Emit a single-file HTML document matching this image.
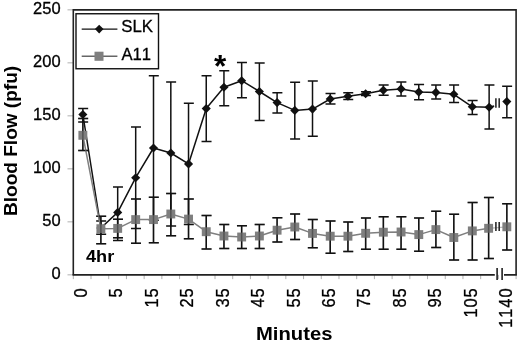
<!DOCTYPE html><html><head><meta charset="utf-8"><title>Blood Flow</title><style>html,body{margin:0;padding:0;background:#fff}svg{display:block}text{font-family:"Liberation Sans",Arial,sans-serif;fill:#000;font-kerning:none}.r{stroke:#000;stroke-width:.3px}</style></head><body>
<svg width="520" height="342" viewBox="0 0 520 342">
<rect width="520" height="342" fill="#fff"/>
<line x1="73.30" y1="274.85" x2="73.30" y2="279.15000000000003" stroke="#b0b0b0" stroke-width="1"/>
<line x1="91.01" y1="274.85" x2="91.01" y2="279.15000000000003" stroke="#b0b0b0" stroke-width="1"/>
<line x1="108.72" y1="274.85" x2="108.72" y2="279.15000000000003" stroke="#b0b0b0" stroke-width="1"/>
<line x1="126.44" y1="274.85" x2="126.44" y2="279.15000000000003" stroke="#b0b0b0" stroke-width="1"/>
<line x1="144.15" y1="274.85" x2="144.15" y2="279.15000000000003" stroke="#b0b0b0" stroke-width="1"/>
<line x1="161.86" y1="274.85" x2="161.86" y2="279.15000000000003" stroke="#b0b0b0" stroke-width="1"/>
<line x1="179.57" y1="274.85" x2="179.57" y2="279.15000000000003" stroke="#b0b0b0" stroke-width="1"/>
<line x1="197.28" y1="274.85" x2="197.28" y2="279.15000000000003" stroke="#b0b0b0" stroke-width="1"/>
<line x1="215.00" y1="274.85" x2="215.00" y2="279.15000000000003" stroke="#b0b0b0" stroke-width="1"/>
<line x1="232.71" y1="274.85" x2="232.71" y2="279.15000000000003" stroke="#b0b0b0" stroke-width="1"/>
<line x1="250.42" y1="274.85" x2="250.42" y2="279.15000000000003" stroke="#b0b0b0" stroke-width="1"/>
<line x1="268.13" y1="274.85" x2="268.13" y2="279.15000000000003" stroke="#b0b0b0" stroke-width="1"/>
<line x1="285.84" y1="274.85" x2="285.84" y2="279.15000000000003" stroke="#b0b0b0" stroke-width="1"/>
<line x1="303.56" y1="274.85" x2="303.56" y2="279.15000000000003" stroke="#b0b0b0" stroke-width="1"/>
<line x1="321.27" y1="274.85" x2="321.27" y2="279.15000000000003" stroke="#b0b0b0" stroke-width="1"/>
<line x1="338.98" y1="274.85" x2="338.98" y2="279.15000000000003" stroke="#b0b0b0" stroke-width="1"/>
<line x1="356.69" y1="274.85" x2="356.69" y2="279.15000000000003" stroke="#b0b0b0" stroke-width="1"/>
<line x1="374.40" y1="274.85" x2="374.40" y2="279.15000000000003" stroke="#b0b0b0" stroke-width="1"/>
<line x1="392.12" y1="274.85" x2="392.12" y2="279.15000000000003" stroke="#b0b0b0" stroke-width="1"/>
<line x1="409.83" y1="274.85" x2="409.83" y2="279.15000000000003" stroke="#b0b0b0" stroke-width="1"/>
<line x1="427.54" y1="274.85" x2="427.54" y2="279.15000000000003" stroke="#b0b0b0" stroke-width="1"/>
<line x1="445.25" y1="274.85" x2="445.25" y2="279.15000000000003" stroke="#b0b0b0" stroke-width="1"/>
<line x1="462.96" y1="274.85" x2="462.96" y2="279.15000000000003" stroke="#b0b0b0" stroke-width="1"/>
<line x1="480.68" y1="274.85" x2="480.68" y2="279.15000000000003" stroke="#b0b0b0" stroke-width="1"/>
<line x1="498.39" y1="274.85" x2="498.39" y2="279.15000000000003" stroke="#b0b0b0" stroke-width="1"/>
<line x1="516.10" y1="274.85" x2="516.10" y2="279.15000000000003" stroke="#b0b0b0" stroke-width="1"/>
<line x1="67.5" y1="274.85" x2="73.3" y2="274.85" stroke="#b0b0b0" stroke-width="1"/>
<line x1="67.5" y1="221.85" x2="73.3" y2="221.85" stroke="#b0b0b0" stroke-width="1"/>
<line x1="67.5" y1="168.85" x2="73.3" y2="168.85" stroke="#b0b0b0" stroke-width="1"/>
<line x1="67.5" y1="115.85" x2="73.3" y2="115.85" stroke="#b0b0b0" stroke-width="1"/>
<line x1="67.5" y1="62.85" x2="73.3" y2="62.85" stroke="#b0b0b0" stroke-width="1"/>
<line x1="67.5" y1="9.85" x2="73.3" y2="9.85" stroke="#b0b0b0" stroke-width="1"/>
<path d="M73.3 274.85 V9.85 H516.1 V274.85" fill="none" stroke="#222" stroke-width="1.6"/>
<path d="M72.5 274.85 H494.8 M504 274.85 H516.9" fill="none" stroke="#222" stroke-width="1.6"/>
<path d="M497.1 268 V280 M502.1 268 V280" fill="none" stroke="#111" stroke-width="1.5"/>
<path d="M82.86 108.4 V122.0 M78.16 108.4 h10 M78.16 122.0 h10 M100.87 220.9 V234.3 M96.17 220.9 h10 M96.17 234.3 h10 M117.68 187 V240.4 M112.98 187 h10 M112.98 240.4 h10 M135.69 127.1 V228.5 M130.99 127.1 h10 M130.99 228.5 h10 M153.50 75.8 V220.2 M148.80 75.8 h10 M148.80 220.2 h10 M170.82 82.1 V226.1 M166.12 82.1 h10 M166.12 226.1 h10 M188.53 103.2 V224.6 M183.83 103.2 h10 M183.83 224.6 h10 M206.24 75.7 V141.6 M201.54 75.7 h10 M201.54 141.6 h10 M223.95 70.7 V105.7 M219.25 70.7 h10 M219.25 105.7 h10 M241.66 62.6 V97.8 M236.96 62.6 h10 M236.96 97.8 h10 M259.38 62.9 V120.6 M254.68 62.9 h10 M254.68 120.6 h10 M277.09 92.8 V112.9 M272.39 92.8 h10 M272.39 112.9 h10 M294.80 82.2 V139 M290.10 82.2 h10 M290.10 139 h10 M312.51 80.9 V136.2 M307.81 80.9 h10 M307.81 136.2 h10 M330.22 93.4 V104 M325.52 93.4 h10 M325.52 104 h10 M347.94 92.7 V99.5 M343.24 92.7 h10 M343.24 99.5 h10 M365.65 91.8 V95.6 M360.95 91.8 h10 M360.95 95.6 h10 M383.36 85.1 V95.2 M378.66 85.1 h10 M378.66 95.2 h10 M401.07 81.9 V96 M396.37 81.9 h10 M396.37 96 h10 M418.78 84.6 V99.8 M414.08 84.6 h10 M414.08 99.8 h10 M435.90 85 V99 M431.20 85 h10 M431.20 99 h10 M453.81 85 V102.5 M449.11 85 h10 M449.11 102.5 h10 M472.32 100.4 V114.5 M467.62 100.4 h10 M467.62 114.5 h10 M489.13 85 V128.9 M484.43 85 h10 M484.43 128.9 h10 M506.84 86.2 V117.8 M502.14 86.2 h10 M502.14 117.8 h10" fill="none" stroke="#111" stroke-width="1.5"/>
<polyline points="82.86,114.5 100.87,228 117.68,212.4 135.69,177.7 153.50,148 170.82,153 188.53,163.9 206.24,108.6 223.95,87.3 241.66,80.7 259.38,91.5 277.09,102.6 294.80,110.4 312.51,109.1 330.22,99 347.94,96.2 365.65,93.7 383.36,90.2 401.07,88.9 418.78,92.1 435.90,92.4 453.81,94.3 472.32,106.8 489.13,107.2" fill="none" stroke="#111" stroke-width="1.5" stroke-linejoin="round"/>
<line x1="489.13" y1="107.2" x2="494.2" y2="106.0" stroke="#111" stroke-width="1.6"/>
<path d="M495.9 98.3 V107.8 M499.2 98.3 V107.8" stroke="#2a2a2a" stroke-width="1.6" fill="none"/>
<path d="M82.86 109.95 L87.41 114.5 L82.86 119.05 L78.31 114.5Z" fill="#111"/>
<path d="M100.87 223.45 L105.42 228 L100.87 232.55 L96.32 228Z" fill="#111"/>
<path d="M117.68 207.85 L122.23 212.4 L117.68 216.95000000000002 L113.13 212.4Z" fill="#111"/>
<path d="M135.69 173.14999999999998 L140.24 177.7 L135.69 182.25 L131.14 177.7Z" fill="#111"/>
<path d="M153.50 143.45 L158.05 148 L153.50 152.55 L148.95 148Z" fill="#111"/>
<path d="M170.82 148.45 L175.37 153 L170.82 157.55 L166.27 153Z" fill="#111"/>
<path d="M188.53 159.35 L193.08 163.9 L188.53 168.45000000000002 L183.98 163.9Z" fill="#111"/>
<path d="M206.24 104.05 L210.79 108.6 L206.24 113.14999999999999 L201.69 108.6Z" fill="#111"/>
<path d="M223.95 82.75 L228.50 87.3 L223.95 91.85 L219.40 87.3Z" fill="#111"/>
<path d="M241.66 76.15 L246.21 80.7 L241.66 85.25 L237.11 80.7Z" fill="#111"/>
<path d="M259.38 86.95 L263.93 91.5 L259.38 96.05 L254.83 91.5Z" fill="#111"/>
<path d="M277.09 98.05 L281.64 102.6 L277.09 107.14999999999999 L272.54 102.6Z" fill="#111"/>
<path d="M294.80 105.85000000000001 L299.35 110.4 L294.80 114.95 L290.25 110.4Z" fill="#111"/>
<path d="M312.51 104.55 L317.06 109.1 L312.51 113.64999999999999 L307.96 109.1Z" fill="#111"/>
<path d="M330.22 94.45 L334.77 99 L330.22 103.55 L325.67 99Z" fill="#111"/>
<path d="M347.94 91.65 L352.49 96.2 L347.94 100.75 L343.39 96.2Z" fill="#111"/>
<path d="M365.65 89.15 L370.20 93.7 L365.65 98.25 L361.10 93.7Z" fill="#111"/>
<path d="M383.36 85.65 L387.91 90.2 L383.36 94.75 L378.81 90.2Z" fill="#111"/>
<path d="M401.07 84.35000000000001 L405.62 88.9 L401.07 93.45 L396.52 88.9Z" fill="#111"/>
<path d="M418.78 87.55 L423.33 92.1 L418.78 96.64999999999999 L414.23 92.1Z" fill="#111"/>
<path d="M435.90 87.85000000000001 L440.45 92.4 L435.90 96.95 L431.35 92.4Z" fill="#111"/>
<path d="M453.81 89.75 L458.36 94.3 L453.81 98.85 L449.26 94.3Z" fill="#111"/>
<path d="M472.32 102.25 L476.87 106.8 L472.32 111.35 L467.77 106.8Z" fill="#111"/>
<path d="M489.13 102.65 L493.68 107.2 L489.13 111.75 L484.58 107.2Z" fill="#111"/>
<path d="M506.84 97.05 L511.39 101.6 L506.84 106.14999999999999 L502.29 101.6Z" fill="#111"/>
<path d="M82.86 118.5 V150.6 M78.16 118.5 h10 M78.16 150.6 h10 M100.87 216.3 V243.8 M96.17 216.3 h10 M96.17 243.8 h10 M117.68 219.2 V237.8 M112.98 219.2 h10 M112.98 237.8 h10 M135.69 199.1 V243.2 M130.99 199.1 h10 M130.99 243.2 h10 M153.50 197.3 V242.8 M148.80 197.3 h10 M148.80 242.8 h10 M170.82 193.4 V235.8 M166.12 193.4 h10 M166.12 235.8 h10 M188.53 199.1 V238.7 M183.83 199.1 h10 M183.83 238.7 h10 M206.24 215.4 V249.0 M201.54 215.4 h10 M201.54 249.0 h10 M223.95 224.4 V248.6 M219.25 224.4 h10 M219.25 248.6 h10 M241.66 225.7 V248.6 M236.96 225.7 h10 M236.96 248.6 h10 M259.38 224.4 V248.6 M254.68 224.4 h10 M254.68 248.6 h10 M277.09 217.7 V242 M272.39 217.7 h10 M272.39 242 h10 M294.80 214.1 V239.5 M290.10 214.1 h10 M290.10 239.5 h10 M312.51 219.4 V247.7 M307.81 219.4 h10 M307.81 247.7 h10 M330.22 220.9 V253.2 M325.52 220.9 h10 M325.52 253.2 h10 M347.94 221.9 V251.4 M343.24 221.9 h10 M343.24 251.4 h10 M365.65 217.9 V249.3 M360.95 217.9 h10 M360.95 249.3 h10 M383.36 216.7 V249.3 M378.66 216.7 h10 M378.66 249.3 h10 M401.07 216.8 V249.2 M396.37 216.8 h10 M396.37 249.2 h10 M418.78 218.1 V251.3 M414.08 218.1 h10 M414.08 251.3 h10 M435.90 211.2 V247.4 M431.20 211.2 h10 M431.20 247.4 h10 M453.81 214.2 V260 M449.11 214.2 h10 M449.11 260 h10 M472.32 202.4 V260 M467.62 202.4 h10 M467.62 260 h10 M488.63 197.4 V258.5 M483.93 197.4 h10 M483.93 258.5 h10 M506.84 203.7 V250 M502.14 203.7 h10 M502.14 250 h10" fill="none" stroke="#111" stroke-width="1.5"/>
<polyline points="82.86,135.3 100.87,228.7 117.68,228.4 135.69,219.6 153.50,219.6 170.82,214.0 188.53,219.1 206.24,231.7 223.95,236 241.66,237 259.38,236 277.09,230.2 294.80,227 312.51,233.4 330.22,236.2 347.94,236.2 365.65,233.3 383.36,232.2 401.07,232.0 418.78,234.6 435.90,229.6 453.81,237.5 472.32,230.9 488.63,228.3" fill="none" stroke="#7f7f7f" stroke-width="1.5" stroke-linejoin="round"/>
<line x1="488.63" y1="228.3" x2="506.84" y2="226.8" stroke="#b8b8b8" stroke-width="1.2"/>
<path d="M495.9 221.9 V231.1 M499.2 221.9 V231.1" stroke="#2a2a2a" stroke-width="1.6" fill="none"/>
<rect x="78.41" y="130.85" width="8.9" height="8.9" fill="#7f7f7f"/>
<rect x="96.42" y="224.25" width="8.9" height="8.9" fill="#7f7f7f"/>
<rect x="113.23" y="223.95" width="8.9" height="8.9" fill="#7f7f7f"/>
<rect x="131.24" y="215.15" width="8.9" height="8.9" fill="#7f7f7f"/>
<rect x="149.05" y="215.15" width="8.9" height="8.9" fill="#7f7f7f"/>
<rect x="166.37" y="209.55" width="8.9" height="8.9" fill="#7f7f7f"/>
<rect x="184.08" y="214.65" width="8.9" height="8.9" fill="#7f7f7f"/>
<rect x="201.79" y="227.25" width="8.9" height="8.9" fill="#7f7f7f"/>
<rect x="219.50" y="231.55" width="8.9" height="8.9" fill="#7f7f7f"/>
<rect x="237.21" y="232.55" width="8.9" height="8.9" fill="#7f7f7f"/>
<rect x="254.93" y="231.55" width="8.9" height="8.9" fill="#7f7f7f"/>
<rect x="272.64" y="225.75" width="8.9" height="8.9" fill="#7f7f7f"/>
<rect x="290.35" y="222.55" width="8.9" height="8.9" fill="#7f7f7f"/>
<rect x="308.06" y="228.95" width="8.9" height="8.9" fill="#7f7f7f"/>
<rect x="325.77" y="231.75" width="8.9" height="8.9" fill="#7f7f7f"/>
<rect x="343.49" y="231.75" width="8.9" height="8.9" fill="#7f7f7f"/>
<rect x="361.20" y="228.85" width="8.9" height="8.9" fill="#7f7f7f"/>
<rect x="378.91" y="227.75" width="8.9" height="8.9" fill="#7f7f7f"/>
<rect x="396.62" y="227.55" width="8.9" height="8.9" fill="#7f7f7f"/>
<rect x="414.33" y="230.15" width="8.9" height="8.9" fill="#7f7f7f"/>
<rect x="431.45" y="225.15" width="8.9" height="8.9" fill="#7f7f7f"/>
<rect x="449.36" y="233.05" width="8.9" height="8.9" fill="#7f7f7f"/>
<rect x="467.87" y="226.45" width="8.9" height="8.9" fill="#7f7f7f"/>
<rect x="484.18" y="223.85" width="8.9" height="8.9" fill="#7f7f7f"/>
<rect x="502.39" y="222.35" width="8.9" height="8.9" fill="#7f7f7f"/>
<path d="M82.86 118.5 V150.6 M78.16 118.5 h10 M78.16 150.6 h10 M100.87 216.3 V243.8 M96.17 216.3 h10 M96.17 243.8 h10 M117.68 219.2 V237.8 M112.98 219.2 h10 M112.98 237.8 h10 M135.69 199.1 V243.2 M130.99 199.1 h10 M130.99 243.2 h10 M153.50 197.3 V242.8 M148.80 197.3 h10 M148.80 242.8 h10 M170.82 193.4 V235.8 M166.12 193.4 h10 M166.12 235.8 h10 M188.53 199.1 V238.7 M183.83 199.1 h10 M183.83 238.7 h10 M206.24 215.4 V249.0 M201.54 215.4 h10 M201.54 249.0 h10 M223.95 224.4 V248.6 M219.25 224.4 h10 M219.25 248.6 h10 M241.66 225.7 V248.6 M236.96 225.7 h10 M236.96 248.6 h10 M259.38 224.4 V248.6 M254.68 224.4 h10 M254.68 248.6 h10 M277.09 217.7 V242 M272.39 217.7 h10 M272.39 242 h10 M294.80 214.1 V239.5 M290.10 214.1 h10 M290.10 239.5 h10 M312.51 219.4 V247.7 M307.81 219.4 h10 M307.81 247.7 h10 M330.22 220.9 V253.2 M325.52 220.9 h10 M325.52 253.2 h10 M347.94 221.9 V251.4 M343.24 221.9 h10 M343.24 251.4 h10 M365.65 217.9 V249.3 M360.95 217.9 h10 M360.95 249.3 h10 M383.36 216.7 V249.3 M378.66 216.7 h10 M378.66 249.3 h10 M401.07 216.8 V249.2 M396.37 216.8 h10 M396.37 249.2 h10 M418.78 218.1 V251.3 M414.08 218.1 h10 M414.08 251.3 h10 M435.90 211.2 V247.4 M431.20 211.2 h10 M431.20 247.4 h10 M453.81 214.2 V260 M449.11 214.2 h10 M449.11 260 h10 M472.32 202.4 V260 M467.62 202.4 h10 M467.62 260 h10 M488.63 197.4 V258.5 M483.93 197.4 h10 M483.93 258.5 h10 M506.84 203.7 V250 M502.14 203.7 h10 M502.14 250 h10" fill="none" stroke="#111" stroke-width="1.5" stroke-opacity="0.4"/>
<rect x="76.0" y="13.75" width="82.5" height="55.0" fill="#fff" stroke="#111" stroke-width="1.4"/>
<line x1="81.7" y1="29.1" x2="117.4" y2="29.1" stroke="#111" stroke-width="1.4"/>
<path d="M99.2 24.8 L103.5 29.1 L99.2 33.4 L94.9 29.1Z" fill="#111"/>
<line x1="81.7" y1="56.3" x2="117.4" y2="56.3" stroke="#666" stroke-width="1.4"/>
<rect x="94.5" y="51.7" width="9.0" height="9.1" fill="#7f7f7f"/>
<text transform="translate(121.2,32.4) scale(1.02,1)" font-size="16.5" class="r">SLK</text>
<text transform="translate(121.4,59.6) scale(1.01,1)" font-size="16.5" class="r">A11</text>
<text transform="translate(60.6,279.45) scale(1.03,1)" font-size="16.0" class="r" text-anchor="end">0</text>
<text transform="translate(60.6,226.45) scale(1.03,1)" font-size="16.0" class="r" text-anchor="end">50</text>
<text transform="translate(60.6,173.45) scale(1.03,1)" font-size="16.0" class="r" text-anchor="end">100</text>
<text transform="translate(60.6,120.45) scale(1.03,1)" font-size="16.0" class="r" text-anchor="end">150</text>
<text transform="translate(60.6,67.45) scale(1.03,1)" font-size="16.0" class="r" text-anchor="end">200</text>
<text transform="translate(60.6,14.45) scale(1.03,1)" font-size="16.0" class="r" text-anchor="end">250</text>
<text transform="translate(87.06,297.40) rotate(-90) scale(0.907,1)" font-size="18.2" letter-spacing="0.99" class="r">0</text>
<text transform="translate(122.48,297.40) rotate(-90) scale(0.907,1)" font-size="18.2" letter-spacing="0.99" class="r">5</text>
<text transform="translate(157.90,307.47) rotate(-90) scale(0.907,1)" font-size="18.2" letter-spacing="0.99" class="r">15</text>
<text transform="translate(193.33,307.47) rotate(-90) scale(0.907,1)" font-size="18.2" letter-spacing="0.99" class="r">25</text>
<text transform="translate(228.75,307.47) rotate(-90) scale(0.907,1)" font-size="18.2" letter-spacing="0.99" class="r">35</text>
<text transform="translate(264.18,307.47) rotate(-90) scale(0.907,1)" font-size="18.2" letter-spacing="0.99" class="r">45</text>
<text transform="translate(299.60,307.47) rotate(-90) scale(0.907,1)" font-size="18.2" letter-spacing="0.99" class="r">55</text>
<text transform="translate(335.02,307.47) rotate(-90) scale(0.907,1)" font-size="18.2" letter-spacing="0.99" class="r">65</text>
<text transform="translate(370.45,307.47) rotate(-90) scale(0.907,1)" font-size="18.2" letter-spacing="0.99" class="r">75</text>
<text transform="translate(405.87,307.47) rotate(-90) scale(0.907,1)" font-size="18.2" letter-spacing="0.99" class="r">85</text>
<text transform="translate(441.30,307.47) rotate(-90) scale(0.907,1)" font-size="18.2" letter-spacing="0.99" class="r">95</text>
<text transform="translate(476.72,317.54) rotate(-90) scale(0.907,1)" font-size="18.2" letter-spacing="0.99" class="r">105</text>
<text transform="translate(512.14,327.81) rotate(-90) scale(0.907,1)" font-size="18.2" letter-spacing="0.99" class="r">1140</text>
<text transform="translate(256,339.6) scale(1.065,1)" font-size="19.0" font-weight="bold">Minutes</text>
<text transform="translate(16.7,216.0) rotate(-90) scale(0.992,0.96)" font-size="19.2" font-weight="bold">Blood Flow (pfu)</text>
<text transform="translate(86,261.6) scale(1.08,1)" font-size="16.8" font-weight="bold">4hr</text>
<text transform="translate(214.0,77.2)" font-size="31.5" font-weight="bold">*</text>
</svg></body></html>
